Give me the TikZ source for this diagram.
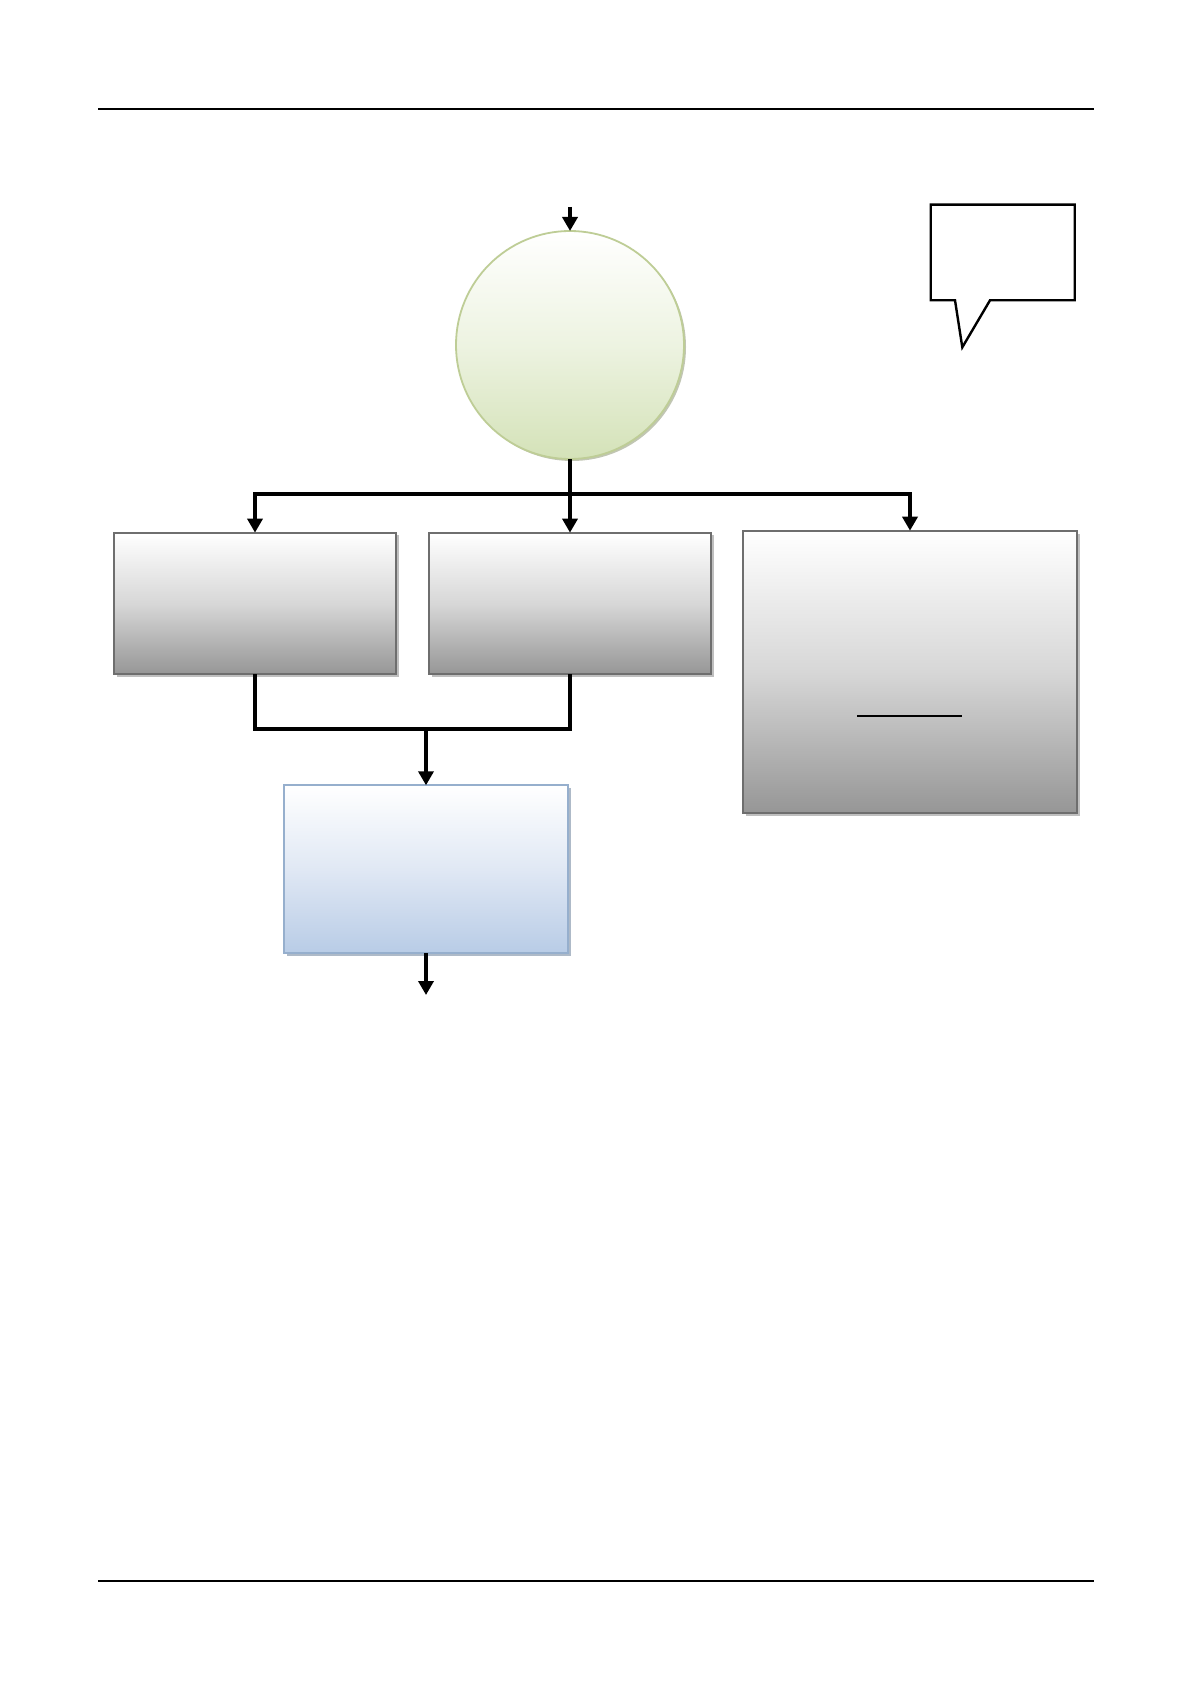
\documentclass[tikz,border=0pt]{standalone}
\usetikzlibrary{arrows.meta,shadows}
\definecolor{boxedge}{RGB}{110,110,110}
\definecolor{boxbot}{RGB}{150,150,150}
\definecolor{boxmid}{RGB}{215,215,215}
\definecolor{circedge}{RGB}{190,205,150}
\definecolor{circbot}{RGB}{212,226,184}
\definecolor{circmid}{RGB}{237,243,225}
\definecolor{blueedge}{RGB}{150,175,205}
\definecolor{bluebot}{RGB}{184,204,230}
\definecolor{bluemid}{RGB}{224,232,244}
\tikzset{
  conn/.style={line width=2pt},
  arr/.style={conn,-{Triangle[width=7.5pt,length=7pt]}},
  graybox/.style={rectangle,draw=boxedge,line width=1pt,inner sep=0pt,outer sep=0pt,
    top color=white,bottom color=boxbot,middle color=boxmid,
    drop shadow={shadow xshift=1.4pt,shadow yshift=-1.4pt,fill=black!25,opacity=1}},
  bluebox/.style={rectangle,draw=blueedge,line width=1pt,inner sep=0pt,outer sep=0pt,
    top color=white,bottom color=bluebot,middle color=bluemid,
    drop shadow={shadow xshift=1.4pt,shadow yshift=-1.4pt,fill=blueedge!80!black,opacity=0.6}},
  startcirc/.style={circle,draw=circedge,line width=0.9pt,inner sep=0pt,outer sep=0pt,
    minimum size=114pt,top color=white,bottom color=circbot,middle color=circmid,
    drop shadow={shadow xshift=1pt,shadow yshift=-1pt,fill=circedge!70!black,opacity=0.5}},
  rule/.style={line width=0.6pt}
}
\begin{document}
\begin{tikzpicture}[x=0.5pt,y=-0.5pt]
\useasboundingbox[fill=white] (0,0) rectangle (1191,1684);
% page rules
\draw[rule] (98,109) -- (1094,109);
\draw[rule] (98,1581) -- (1094,1581);
% nodes
\node[startcirc] (circ) at (570,345) {};
\node[graybox,minimum width=141.25pt,minimum height=70.85pt] (left) at (255,603.5) {};
\node[graybox,minimum width=141.25pt,minimum height=70.85pt] (mid) at (570,603.5) {};
\node[graybox,minimum width=167.3pt,minimum height=141pt] (right) at (910,671.7) {};
\node[bluebox,minimum width=142pt,minimum height=84pt] (blue) at (426,869.3) {};
% underline inside right box
\draw[line width=0.9pt] (857,715.7) -- (962,715.7);
% callout
\draw[line width=1.2pt,fill=white,line join=miter] (930.7,204.7) -- (1074.7,204.7) -- (1074.7,300.3)
  -- (990,300.3) -- (962.3,347.3) -- (955,300.3) -- (930.7,300.3) -- cycle;
% connectors
\coordinate (in) at (570,207);
\coordinate (split) at (570,494);
\coordinate (merge) at (426,729);
\coordinate (out) at (426,995);
\draw[arr] (in) -- (circ.north);
\draw[conn] (circ.south) -- (split);
\draw[arr] (split) -| (left.north);
\draw[arr] (split) -- (mid.north);
\draw[arr] (split) -| (right.north);
\draw[conn] (left.south) |- (merge);
\draw[conn] (mid.south) |- (merge);
\draw[arr] (merge) -- (blue.north);
\draw[arr] (blue.south) -- (out);
\end{tikzpicture}
\end{document}
